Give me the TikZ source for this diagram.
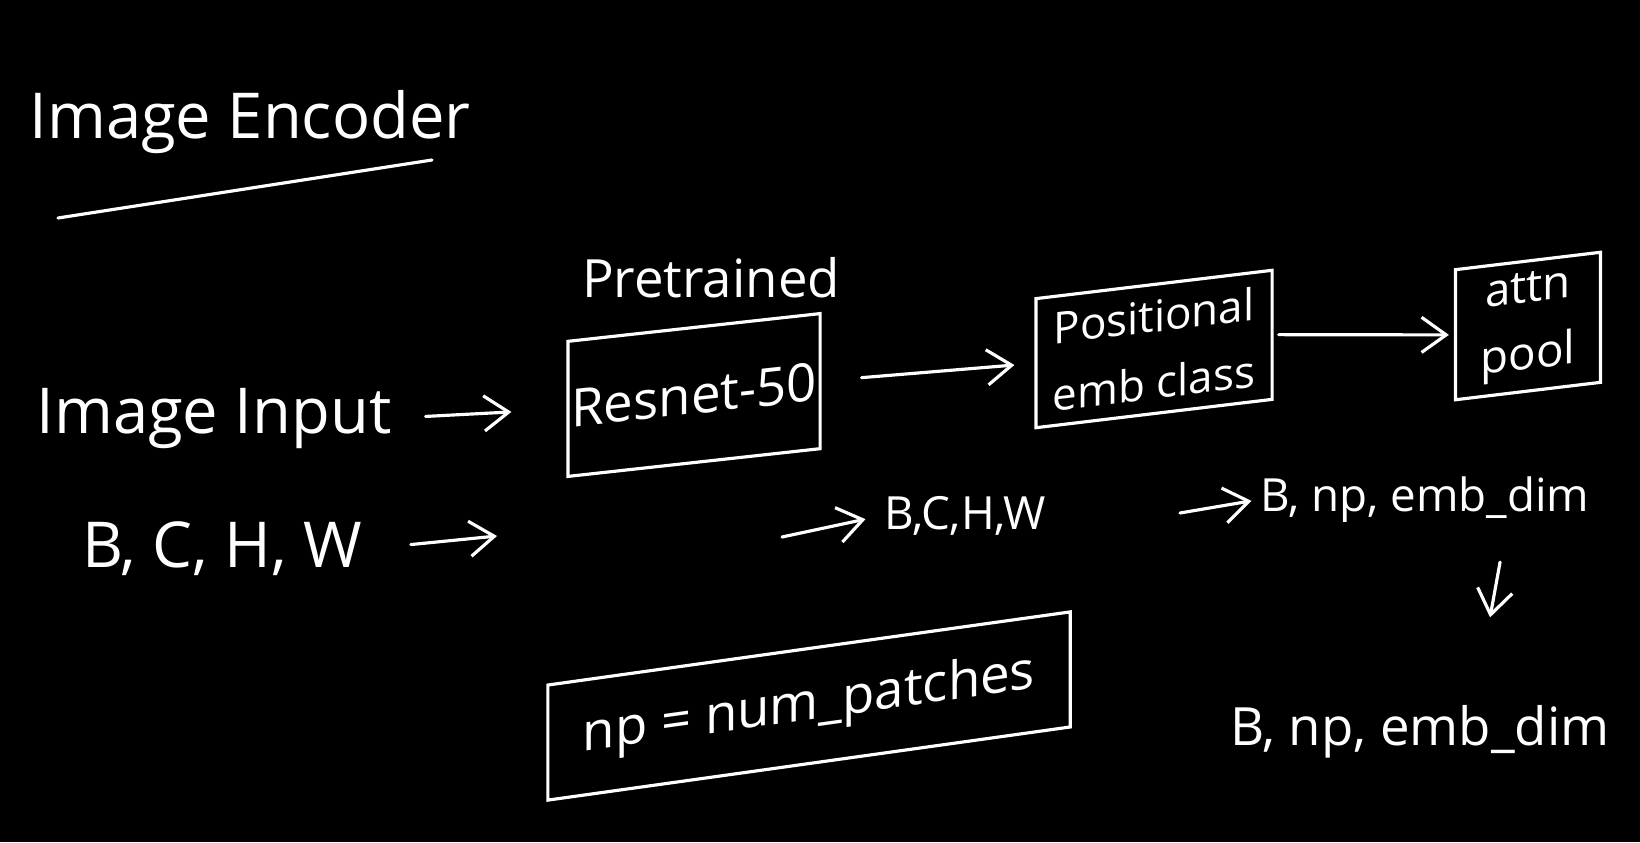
\documentclass[tikz,border=0pt]{standalone}
\usepackage{fontspec}
\setmainfont{Open Sans}
\usetikzlibrary{arrows.meta}
\begin{document}
\begin{tikzpicture}[x=0.01cm,y=-0.01cm,
 ink/.style={draw=white,line width=0.9pt,line cap=round},
 txt/.style={text=white,font=\fontsize{18}{20}\selectfont,inner sep=1pt},
 box/.style={ink,txt,inner sep=0pt,align=center},
 arr/.style={ink,-{Straight Barb[length=7pt,width=10pt]}}]
\fill[black] (0,0) rectangle (1640,842);
\useasboundingbox (0,0) rectangle (1640,842);

% title
\node[txt] (title) at (250,122) {Image Encoder};
\draw[ink] (58,218) -- (432,160);

% inputs
\node[txt] (imgin) at (214,418) {Image Input};
\node[txt] (bchw) at (222,549) {B, C, H, W};
\coordinate (resin) at (497,536);

% blocks
\node[txt,font=\fontsize{15}{17}\selectfont] (pretrained) at (711,278) {Pretrained};
\node[box,font=\fontsize{15}{17}\selectfont,minimum width=2.52cm,minimum height=1.35cm,yslant=0.11] (resnet) at (694,395) {Resnet-50};
\node[box,font=\fontsize{12.5}{19}\selectfont,minimum width=2.36cm,minimum height=1.29cm,yslant=0.12] (posemb) at (1154,349) {Positional\\emb class};
\node[box,font=\fontsize{13}{19}\selectfont,minimum width=1.45cm,minimum height=1.3cm,yslant=0.12] (attnpool) at (1528,326) {attn\\pool};

% shapes
\coordinate (resout) at (782,537);
\node[txt,font=\fontsize{13}{15}\selectfont] (bchwout) at (965,516) {B,C,H,W};
\coordinate (embin) at (1180,513);
\node[txt,font=\fontsize{13}{15}\selectfont] (embA) at (1425,500) {B, np, emb\_dim};
\node[txt,font=\fontsize{15}{17}\selectfont] (embB) at (1420,732) {B, np, emb\_dim};

% note
\node[box,font=\fontsize{15}{17}\selectfont,minimum width=5.22cm,minimum height=1.15cm,yslant=0.14] (numpatch) at (809,706) {np = num\_patches};

\draw[arr,shorten <=.3cm,shorten >=.55cm] (imgin.east) -- (resnet.west);
\draw[arr,shorten <=.45cm] (bchw.east) -- (resin);
\draw[arr,shorten <=.4cm,shorten >=.2cm] (resnet.east) -- (posemb.west);
\draw[arr,shorten <=.05cm,shorten >=.05cm] (posemb.east) -- (attnpool.west);
\draw[arr,shorten >=.15cm] (resout) -- (bchwout.west);
\draw[arr,shorten >=.05cm] (embin) -- (embA.west);
\draw[arr] ([xshift=.75cm,yshift=-.35cm]embA.south) -- ([xshift=.7cm,yshift=.84cm]embB.north);
\end{tikzpicture}
\end{document}
